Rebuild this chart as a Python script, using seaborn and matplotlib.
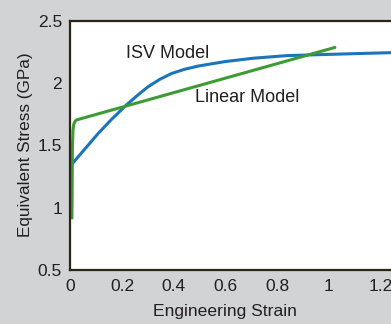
import matplotlib
matplotlib.use("Agg")
import matplotlib.pyplot as plt
import seaborn as sns

# ISV model curve (strain, stress in GPa)
isv_strain = [0.0, 0.05, 0.108, 0.16, 0.217, 0.26, 0.301, 0.345, 0.391, 0.44, 0.494, 0.598, 0.707, 0.836, 0.965, 1.1, 1.24]
isv_stress = [1.335, 1.457, 1.598, 1.712, 1.827, 1.905, 1.974, 2.032, 2.08, 2.113, 2.14, 2.176, 2.203, 2.224, 2.232, 2.24, 2.248]

# Linear model curve
lin_strain = [0.006, 0.007, 0.008, 0.01, 0.013, 0.018, 0.024, 1.023]
lin_stress = [0.915, 1.2, 1.5, 1.62, 1.67, 1.695, 1.706, 2.29]

x_ticks = [0, 0.2, 0.4, 0.6, 0.8, 1, 1.2]
x_tick_labels = ["0", "0.2", "0.4", "0.6", "0.8", "1", "1.2"]
y_ticks = [0.5, 1, 1.5, 2, 2.5]
y_tick_labels = ["0.5", "1", "1.5", "2", "2.5"]

sns.set_style("white")
plt.rcParams["font.family"] = ["Liberation Sans", "DejaVu Sans"]

bg = "#d1d3d4"
ink = "#231f20"
fig = plt.figure(figsize=(3.91, 3.24), dpi=100, facecolor=bg)
ax = fig.add_axes([0.180, 0.168, 0.82, 0.766])
ax.set_facecolor("white")

sns.lineplot(x=isv_strain, y=isv_stress, ax=ax, color="#1a75bc", lw=2.2,
             sort=False, estimator=None)
sns.lineplot(x=lin_strain, y=lin_stress, ax=ax, color="#3d9b35", lw=2.2,
             sort=False, estimator=None)

ax.set_xlim(0, 1.24)
ax.set_ylim(0.5, 2.5)
ax.set_xticks(x_ticks)
ax.set_xticklabels(x_tick_labels)
ax.set_yticks(y_ticks)
ax.set_yticklabels(y_tick_labels)

ax.tick_params(direction="in", length=6.5, width=1, color="#3a3226",
               labelsize=12.5, labelcolor=ink)
ax.tick_params(axis="x", pad=7)
ax.tick_params(axis="y", pad=6)
for s in ["left", "bottom", "top"]:
    ax.spines[s].set_color("#2b2415")
    ax.spines[s].set_linewidth(1.6)
ax.spines["right"].set_visible(False)

ax.set_xlabel("Engineering Strain", fontsize=12.6, color=ink)
ax.set_ylabel("Equivalent Stress (GPa)", fontsize=12.3, color=ink)
ax.xaxis.set_label_coords(0.482, -0.14)
ax.yaxis.set_label_coords(-0.117, 0.505)

ax.text(0.375, 2.238, "ISV Model", fontsize=13, color=ink, ha="center", va="center")
ax.text(0.682, 1.887, "Linear Model", fontsize=13, color=ink, ha="center", va="center")

fig.savefig("out.png", dpi=100, facecolor=bg)
